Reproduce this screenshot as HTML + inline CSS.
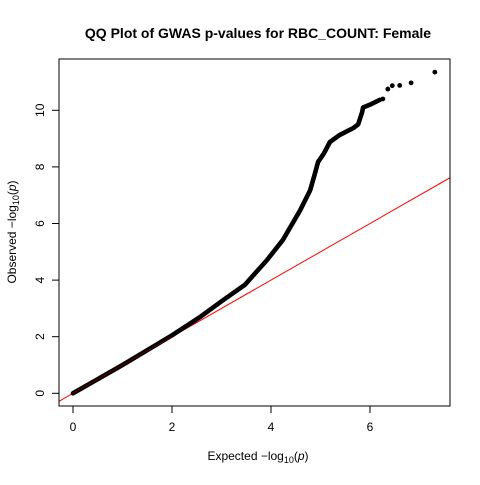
<!DOCTYPE html>
<html><head><meta charset="utf-8"><style>
body{margin:0;background:#fff}
svg text{font-family:"Liberation Sans",sans-serif}
</style></head><body>
<svg width="480" height="480" viewBox="0 0 480 480" id="chart">
<rect x="0" y="0" width="480" height="480" fill="#fff"/>
<text x="258" y="38" text-anchor="middle" font-size="14" font-weight="bold">QQ Plot of GWAS p-values for RBC_COUNT: Female</text>
<defs><clipPath id="pc"><rect x="59" y="59" width="391" height="347"/></clipPath></defs>
<g id="marks" clip-path="url(#pc)"></g>
<rect x="59" y="59" width="391" height="347" fill="none" stroke="#000" stroke-width="1"/>
<g id="axes"></g>
<text x="258" y="460" text-anchor="middle" font-size="12">Expected  −log<tspan font-size="9" dy="3">10</tspan><tspan dy="-3">(</tspan><tspan font-style="italic">p</tspan>)</text>
<text transform="translate(16,232) rotate(-90)" text-anchor="middle" font-size="12">Observed  −log<tspan font-size="9" dy="3">10</tspan><tspan dy="-3">(</tspan><tspan font-style="italic">p</tspan>)</text>
</svg>
<script>
const expected = [0,1,2,2.57,3.0,3.47,3.92,4.24,4.59,4.79,4.89,4.95,5.07,5.19,5.39,5.66,5.76,5.84,5.86,6.0,6.2];
const observed = [0,1,2.05,2.7,3.25,3.83,4.71,5.42,6.47,7.17,7.78,8.17,8.48,8.88,9.13,9.37,9.5,9.93,10.1,10.2,10.37];
const topExpected = [6.26,6.36,6.45,6.6,6.83,7.31];
const topObserved = [10.4,10.75,10.87,10.88,10.97,11.35];
const xTicks = [0,2,4,6];
const yTicks = [0,2,4,6,8,10];
const NS="http://www.w3.org/2000/svg";
const sx = v => 73 + v*49.5;
const sy = v => 393.3 - v*28.3;
const marks=document.getElementById('marks');
const axes=document.getElementById('axes');
function mk(tag,attrs,parent){const e=document.createElementNS(NS,tag);for(const k in attrs)e.setAttribute(k,attrs[k]);parent.appendChild(e);return e;}
const rl=mk('line',{x1:sx(-1),y1:sy(-1),x2:sx(9),y2:sy(9),stroke:'#ff0000','stroke-width':1},marks);


let d='';
expected.forEach((v,i)=>{d+=(i?'L':'M')+sx(v)+' '+sy(observed[i]);});
const band=mk('path',{d:d,fill:'none',stroke:'#000','stroke-width':4.6,'stroke-linecap':'round','stroke-linejoin':'round'},marks);


const inner=mk('path',{d:'M'+sx(0)+' '+sy(0)+'L'+sx(2)+' '+sy(2),fill:'none',stroke:'#5a0000','stroke-width':1},marks);


topExpected.forEach((v,i)=>{
  const c=mk('circle',{cx:sx(v),cy:sy(topObserved[i]),r:2.4,fill:'#000'},marks);
  
  
});
xTicks.forEach(t=>{
  const l=mk('line',{x1:sx(t),y1:406,x2:sx(t),y2:413,stroke:'#000'},axes);
  
  
  const tx=mk('text',{x:sx(t),y:431,'text-anchor':'middle','font-size':12},axes);
  tx.textContent=t;
  
  
});
yTicks.forEach(t=>{
  const l=mk('line',{x1:52,y1:sy(t),x2:59,y2:sy(t),stroke:'#000'},axes);
  
  
  const tx=mk('text',{transform:'translate(44,'+sy(t)+') rotate(-90)','text-anchor':'middle','font-size':12},axes);
  tx.textContent=t;
  
  
});
</script>
</body></html>
